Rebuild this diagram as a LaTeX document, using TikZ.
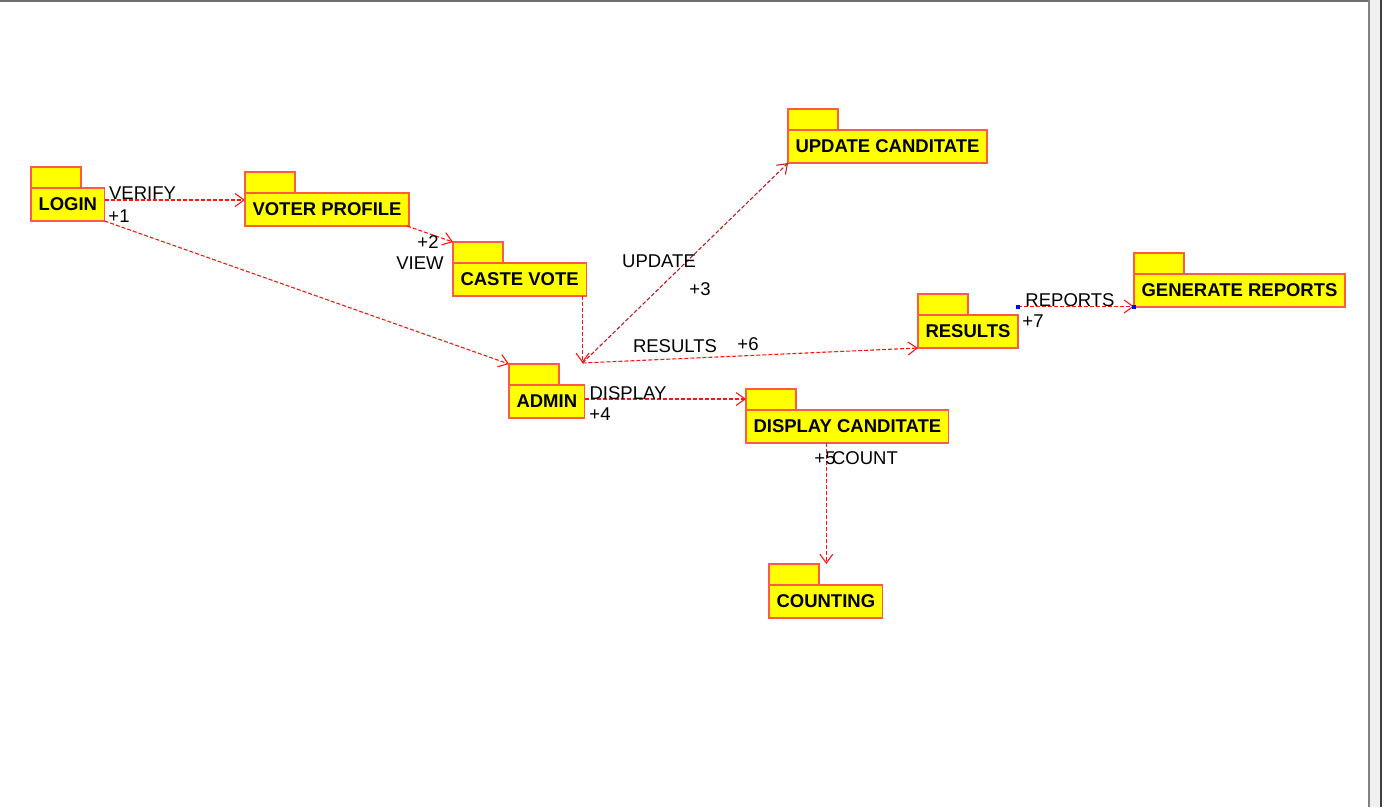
\documentclass[tikz,border=0pt]{standalone}
\usepackage{fontspec}
\setmainfont{Liberation Sans}
\usepackage{tikz}
\usetikzlibrary{arrows.meta}
\definecolor{pkgyellow}{RGB}{255,255,0}
\definecolor{pkgborder}{RGB}{255,90,70}
\definecolor{deplink}{RGB}{255,20,20}
\definecolor{updlink}{RGB}{190,30,30}
\definecolor{framegray}{RGB}{110,110,110}

\begin{document}
\begin{tikzpicture}[
    x=1pt, y=-1pt,
    pkg/.style={rectangle, draw=pkgborder, line width=1.2pt, fill=pkgyellow, anchor=north west,
                minimum height=33pt, inner xsep=7.5pt, inner ysep=0pt, outer sep=0pt,
                font=\fontsize{18.5}{22}\selectfont\bfseries},
    tab/.style={rectangle, draw=pkgborder, line width=1.2pt, fill=pkgyellow, anchor=south west,
                minimum width=50pt, minimum height=21pt, inner sep=0pt, outer sep=0pt},
    dep/.style={-{Straight Barb[length=9pt, width=13pt]}, draw=#1, line width=1.1pt,
                dash pattern=on 4pt off 2pt},
    dep/.default=deplink,
    lbl/.style={font=\fontsize{18.5}{22}\selectfont, inner sep=0pt},
    handle/.style={rectangle, fill=blue, minimum size=4pt, inner sep=0pt},
]
    \useasboundingbox (0,0) rectangle (1396,807);

    % window frame
    \draw[framegray, line width=2pt] (0,1) -- (1369,1);
    \fill[gray!12] (1369,0) rectangle (1381,807);
    \draw[gray, line width=2pt] (1369,0) -- (1369,807);
    \draw[black!75, line width=2pt] (1381,0) -- (1381,807);

    % packages
    \node[pkg] (login)    at (31,188)   {LOGIN};
    \node[pkg] (voter)    at (245,193)  {VOTER PROFILE};
    \node[pkg] (caste)    at (453,263)  {CASTE VOTE};
    \node[pkg] (admin)    at (509,385)  {ADMIN};
    \node[pkg] (update)   at (788,130)  {UPDATE CANDITATE};
    \node[pkg] (results)  at (918,315)  {RESULTS};
    \node[pkg] (display)  at (746,410)  {DISPLAY CANDITATE};
    \node[pkg] (counting) at (769,585)  {COUNTING};
    \node[pkg] (generate) at (1134,274) {GENERATE REPORTS};

    \foreach \n in {login, voter, caste, admin, update, results, display, counting, generate}
        \node[tab] (\n tab) at (\n.north west) {};

    \coordinate (merge) at (582.5,363);

    % dependencies
    \draw[dep] ([yshift=4.5pt]login.east) -- ([yshift=4.5pt]login.east -| voter.west);
    \draw[dep] ([xshift=-2pt]voter.south east) -- (castetab.north west);
    \draw[dep] (login.south east) -- (admintab.north west);
    \draw[dep] (merge |- caste.south) -- (merge);
    \draw[dep=updlink] (merge) -- (update.south west);
    \draw[dep] (merge) -- (results.south west);
    \draw[dep] ([yshift=2.5pt]admin.east) -- ([yshift=2.5pt]admin.east -| displaytab.west);
    \draw[dep] ([xshift=0.5pt]counting.north |- display.south) -- ([xshift=0.5pt]counting.north |- countingtab.north);
    \draw[dep] ([yshift=0.5pt]results.north east |- generate.south west) -- ([yshift=0.5pt]generate.south west);
    \node[handle] (repfrom) at (results.north east |- generate.south west) {};
    \node[handle] (repto) at (generate.south west) {};

    % labels
    \node[lbl] (verifyl)  at (142.5,193) {VERIFY};
    \node[lbl] (onel)     at (119,216)   {+1};
    \node[lbl] (twol)     at (428,242)   {+2};
    \node[lbl] (viewl)    at (420,263)   {VIEW};
    \node[lbl] (updatel)  at (659,261)   {UPDATE};
    \node[lbl] (threel)   at (700,289)   {+3};
    \node[lbl] (resultsl) at (675,346)   {RESULTS};
    \node[lbl] (sixl)     at (748,344)   {+6};
    \node[lbl] (displayl) at (628,393)   {DISPLAY};
    \node[lbl] (fourl)    at (600,414)   {+4};
    \node[lbl] (fivel)    at (825,458)   {+5};
    \node[lbl] (countl)   at (865,458)   {COUNT};
    \node[lbl] (reportsl) at (1070,300)  {REPORTS};
    \node[lbl] (sevenl)   at (1033,321)  {+7};
\end{tikzpicture}
\end{document}
